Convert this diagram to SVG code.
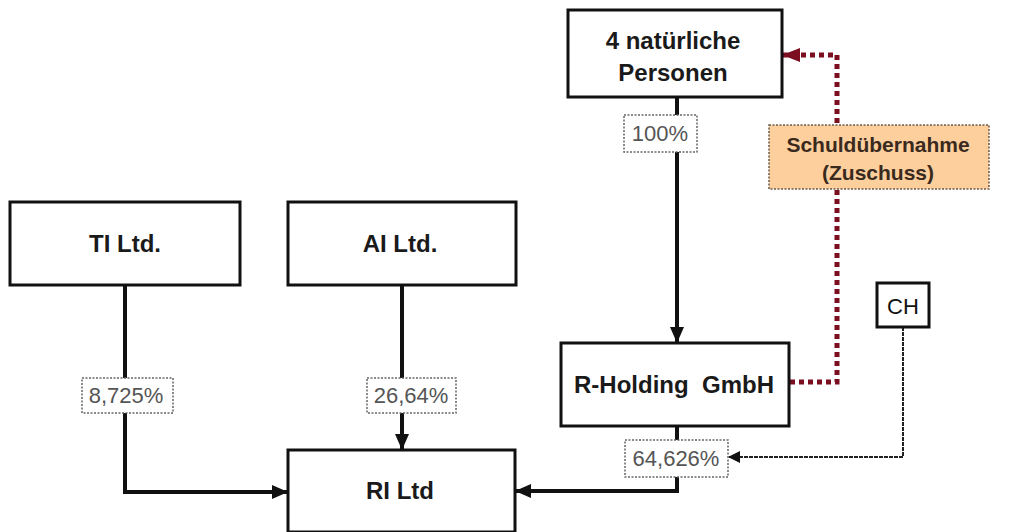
<svg xmlns="http://www.w3.org/2000/svg" width="1019" height="532" viewBox="0 0 1019 532">
  <style>
    .box { fill: #ffffff; stroke: #111111; stroke-width: 3; }
    .name { font-family: "Liberation Sans", Arial, sans-serif; font-weight: bold; font-size: 24px; fill: #1a1a1a; text-anchor: middle; white-space: pre; }
    .pct-box { fill: #ffffff; stroke: #666666; stroke-width: 1.5; stroke-dasharray: 2 1.5; }
    .pct { font-family: "Liberation Sans", Arial, sans-serif; font-size: 22px; fill: #555555; text-anchor: middle; }
    .link { fill: none; stroke: #111111; stroke-width: 4; }
    .thin { fill: none; stroke: #222222; stroke-width: 2; stroke-dasharray: 4 1; }
    .debt { fill: none; stroke: #7b0f1f; stroke-width: 5; stroke-dasharray: 5 4; }
    .note-box { fill: #fdcf9d; stroke: #6b5a4a; stroke-width: 1.5; stroke-dasharray: 2 1.5; }
    .note { font-family: "Liberation Sans", Arial, sans-serif; font-weight: bold; font-size: 21px; fill: #3a2a1e; text-anchor: middle; }
  </style>
  <defs>
    <marker id="arrow" viewBox="0 0 16 14" refX="16" refY="7" markerWidth="16" markerHeight="14" markerUnits="userSpaceOnUse" orient="auto">
      <path d="M0,0 L16,7 L0,14 Z" fill="#111111"/>
    </marker>
    <marker id="arrow-thin" viewBox="0 0 12 12" refX="12" refY="6" markerWidth="12" markerHeight="12" markerUnits="userSpaceOnUse" orient="auto">
      <path d="M0,0 L12,6 L0,12 Z" fill="#111111"/>
    </marker>
    <marker id="arrow-red" viewBox="0 0 18 14" refX="18" refY="7" markerWidth="18" markerHeight="14" markerUnits="userSpaceOnUse" orient="auto">
      <path d="M0,0 L18,7 L0,14 Z" fill="#7b0f1f"/>
    </marker>
  </defs>

  <rect width="1019" height="532" fill="#ffffff"/>

  <!-- connectors -->
  <g id="connectors">
    <path class="link" d="M125,285 V492 H288" marker-end="url(#arrow)"/>
    <path class="link" d="M402,285 V450" marker-end="url(#arrow)"/>
    <path class="link" d="M677,97 V343" marker-end="url(#arrow)"/>
    <path class="link" d="M677,426 V491 H515" marker-end="url(#arrow)"/>
    <path class="thin" d="M903,327 V457 H728" marker-end="url(#arrow-thin)"/>
    <path class="debt" d="M790,382 H837 V55 H782" marker-end="url(#arrow-red)"/>
  </g>

  <!-- nodes -->
  <g id="natuerliche-personen">
    <rect class="box" x="568" y="10" width="214" height="87"/>
    <text class="name" x="673" y="49">4 natürliche</text>
    <text class="name" x="673" y="81">Personen</text>
  </g>

  <g id="ti-ltd">
    <rect class="box" x="10" y="202" width="230" height="83"/>
    <text class="name" x="125" y="252">TI Ltd.</text>
  </g>

  <g id="ai-ltd">
    <rect class="box" x="288" y="202" width="228" height="83"/>
    <text class="name" x="400" y="252">AI Ltd.</text>
  </g>

  <g id="r-holding">
    <rect class="box" x="561" y="343" width="228" height="83"/>
    <text class="name" x="674" y="393">R-Holding  GmbH</text>
  </g>

  <g id="ri-ltd">
    <rect class="box" x="288" y="450" width="227" height="82"/>
    <text class="name" x="400" y="499">RI Ltd</text>
  </g>

  <g id="ch">
    <rect class="box" x="877" y="283" width="52" height="44" stroke-width="2.5"/>
    <text class="pct" x="903" y="314" style="fill:#111111">CH</text>
  </g>

  <g id="schuldübernahme">
    <rect class="note-box" x="769" y="125" width="220" height="64"/>
    <text class="note" x="878" y="152">Schuldübernahme</text>
    <text class="note" x="878" y="180">(Zuschuss)</text>
  </g>

  <!-- share labels -->
  <g id="label-100">
    <rect class="pct-box" x="624" y="115" width="73" height="37"/>
    <text class="pct" x="660" y="141">100%</text>
  </g>
  <g id="label-8725">
    <rect class="pct-box" x="82" y="378" width="91" height="35"/>
    <text class="pct" x="126" y="403">8,725%</text>
  </g>
  <g id="label-2664">
    <rect class="pct-box" x="367" y="378" width="89" height="35"/>
    <text class="pct" x="411" y="403">26,64%</text>
  </g>
  <g id="label-64626">
    <rect class="pct-box" x="625" y="440" width="103" height="37"/>
    <text class="pct" x="676" y="466">64,626%</text>
  </g>
</svg>
